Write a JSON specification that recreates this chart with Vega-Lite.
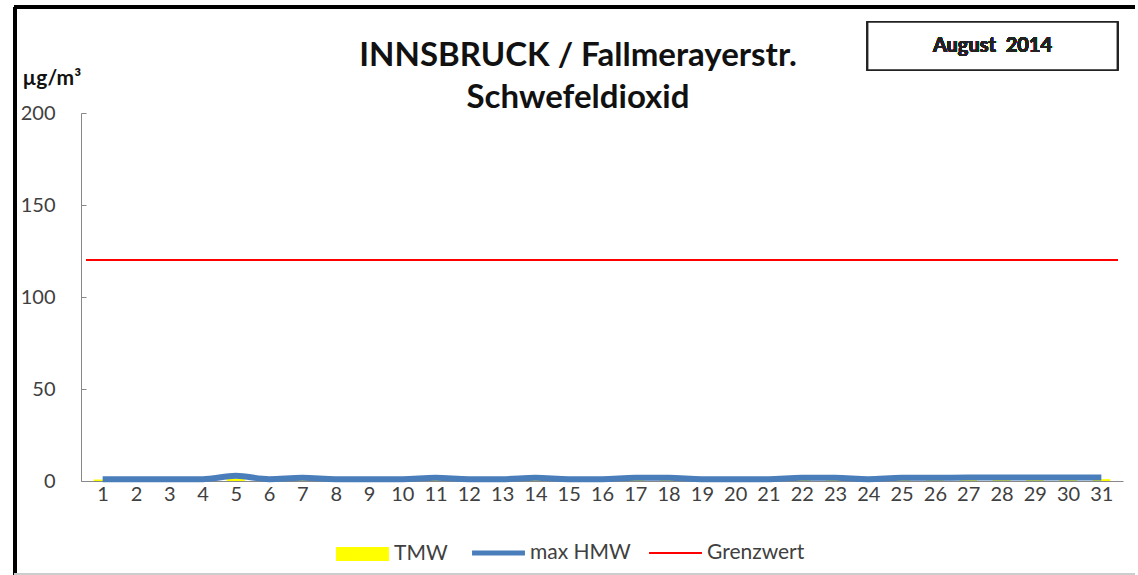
{
  "$schema": "https://vega.github.io/schema/vega-lite/v6.json",
  "width": 1042,
  "height": 368,
  "autosize": {"type": "none"},
  "padding": {"left": 81, "top": 113, "right": 15, "bottom": 94},
  "background": "white",
  "config": {
    "view": {"stroke": null},
    "font": "Lato",
    "axis": {"labelFont": "Lato", "labelFontSize": 20, "labelColor": "#404040", "domainColor": "#888888", "grid": false},
    "axisX": {"labelOverlap": false}
  },
  "title": {
    "text": ["INNSBRUCK / Fallmerayerstr.", "Schwefeldioxid"],
    "font": "Lato",
    "fontSize": 33,
    "fontWeight": "bold",
    "color": "#111111",
    "lineHeight": 42,
    "anchor": "middle",
    "frame": "group",
    "dx": -24,
    "dy": 114,
    "offset": 5
  },
  "data": {
    "values": [
      {"day": 1, "TMW": 0.8, "maxHMW": 1.0},
      {"day": 2, "TMW": 0.8, "maxHMW": 1.0},
      {"day": 3, "TMW": 0.8, "maxHMW": 1.0},
      {"day": 4, "TMW": 0.8, "maxHMW": 1.0},
      {"day": 5, "TMW": 1.2, "maxHMW": 2.8},
      {"day": 6, "TMW": 0.8, "maxHMW": 1.0},
      {"day": 7, "TMW": 0.9, "maxHMW": 1.7},
      {"day": 8, "TMW": 0.8, "maxHMW": 1.0},
      {"day": 9, "TMW": 0.8, "maxHMW": 1.0},
      {"day": 10, "TMW": 0.8, "maxHMW": 1.0},
      {"day": 11, "TMW": 0.9, "maxHMW": 1.7},
      {"day": 12, "TMW": 0.8, "maxHMW": 1.0},
      {"day": 13, "TMW": 0.8, "maxHMW": 1.0},
      {"day": 14, "TMW": 0.9, "maxHMW": 1.7},
      {"day": 15, "TMW": 0.8, "maxHMW": 1.0},
      {"day": 16, "TMW": 0.8, "maxHMW": 1.0},
      {"day": 17, "TMW": 0.9, "maxHMW": 1.7},
      {"day": 18, "TMW": 0.9, "maxHMW": 1.7},
      {"day": 19, "TMW": 0.8, "maxHMW": 1.0},
      {"day": 20, "TMW": 0.8, "maxHMW": 1.0},
      {"day": 21, "TMW": 0.8, "maxHMW": 1.0},
      {"day": 22, "TMW": 0.9, "maxHMW": 1.7},
      {"day": 23, "TMW": 0.9, "maxHMW": 1.7},
      {"day": 24, "TMW": 0.8, "maxHMW": 1.0},
      {"day": 25, "TMW": 0.9, "maxHMW": 1.7},
      {"day": 26, "TMW": 0.9, "maxHMW": 1.7},
      {"day": 27, "TMW": 1.0, "maxHMW": 1.9},
      {"day": 28, "TMW": 1.0, "maxHMW": 1.9},
      {"day": 29, "TMW": 1.0, "maxHMW": 1.9},
      {"day": 30, "TMW": 1.0, "maxHMW": 1.9},
      {"day": 31, "TMW": 1.0, "maxHMW": 1.9}
    ]
  },
  "encoding": {
    "x": {
      "field": "day",
      "type": "quantitative",
      "scale": {"domain": [0.5, 31.5], "nice": false, "zero": false},
      "axis": {"title": null, "values": [1,2,3,4,5,6,7,8,9,10,11,12,13,14,15,16,17,18,19,20,21,22,23,24,25,26,27,28,29,30,31], "format": "d", "ticks": false, "labelPadding": 3, "labelFlush": false, "labelOverlap": false}
    }
  },
  "layer": [
    {
      "mark": {"type": "bar", "size": 18},
      "encoding": {
        "y": {
          "field": "TMW",
          "type": "quantitative",
          "scale": {"domain": [0, 200], "nice": false},
          "axis": {
            "title": "µg/m³",
            "titleFont": "Lato",
            "titleFontSize": 21,
            "titleFontWeight": "bold",
            "titleColor": "#111111",
            "titleAngle": 0,
            "titleAlign": "left",
            "titleBaseline": "middle",
            "titleX": -59,
            "titleY": -35,
            "values": [0, 50, 100, 150, 200],
            "tickSize": -5,
            "tickColor": "#888888",
            "labelPadding": 31
          }
        },
        "color": {
          "datum": "TMW",
          "type": "nominal",
          "scale": {"domain": ["TMW", "max HMW", "Grenzwert"], "range": ["#ffff00", "#4a7ebb", "#ff0000"]},
          "legend": {
            "title": null,
            "orient": "none",
            "legendX": 271,
            "legendY": 409,
            "direction": "horizontal",
            "symbolType": "stroke",
            "symbolSize": 2800,
            "symbolStrokeWidth": 5,
            "labelFont": "Lato",
            "labelFontSize": 21,
            "labelColor": "#404040",
            "columnPadding": 14,
            "labelOffset": 21,
            "encode": {
              "symbols": {
                "update": {
                  "stroke": {"signal": "scale('color', datum.value)"},
                  "strokeWidth": {"signal": "datum.value === 'TMW' ? 14 : datum.value === 'Grenzwert' ? 2 : 5"},
                  "strokeCap": {"value": "butt"},
                  "y": {"signal": "datum.value === 'TMW' ? 32 : 12"}
                }
              },
              "labels": {
                "update": {
                  "y": {"signal": "datum.value === 'TMW' ? 32 : 12"},
                  "baseline": {"value": "middle"}
                }
              }
            }
          }
        }
      }
    },
    {
      "mark": {"type": "line", "strokeWidth": 6, "interpolate": "monotone", "color": "#4a7ebb"},
      "encoding": {
        "y": {"field": "maxHMW", "type": "quantitative"},
        "color": {"datum": "max HMW", "type": "nominal"}
      }
    },
    {
      "mark": {"type": "rule", "strokeWidth": 1.5},
      "encoding": {
        "x": {"datum": 0.5, "type": "quantitative"},
        "x2": {"datum": 31.5},
        "y": {"datum": 120, "type": "quantitative"},
        "color": {"datum": "Grenzwert", "type": "nominal"}
      }
    },
    {
      "mark": {"type": "rect", "fill": "white", "stroke": "#222222", "strokeWidth": 1.5},
      "encoding": {
        "x": {"datum": 23.98, "type": "quantitative"},
        "x2": {"datum": 31.48},
        "y": {"datum": 249.5, "type": "quantitative"},
        "y2": {"datum": 223.4}
      }
    },
    {
      "mark": {"type": "text", "text": "August\u00a0\u00a02014", "font": "Lato", "fontSize": 20, "fontWeight": "bold", "color": "#222222", "align": "center", "baseline": "middle"},
      "encoding": {
        "x": {"datum": 27.73, "type": "quantitative"},
        "y": {"datum": 236.6, "type": "quantitative"}
      }
    },
    {
      "mark": {"type": "rule", "stroke": "#000000", "strokeWidth": 3},
      "encoding": {
        "x": {"datum": -1.64, "type": "quantitative"},
        "x2": {"datum": 32.0},
        "y": {"datum": 257.6, "type": "quantitative"}
      }
    },
    {
      "mark": {"type": "rule", "stroke": "#000000", "strokeWidth": 3},
      "encoding": {
        "x": {"datum": -1.64, "type": "quantitative"},
        "y": {"datum": 257.6, "type": "quantitative"},
        "y2": {"datum": -51}
      }
    },
    {
      "mark": {"type": "rule", "stroke": "#cccccc", "strokeWidth": 1.5},
      "encoding": {
        "x": {"datum": -1.64, "type": "quantitative"},
        "x2": {"datum": 32.0},
        "y": {"datum": -50.5, "type": "quantitative"}
      }
    }
  ]
}
